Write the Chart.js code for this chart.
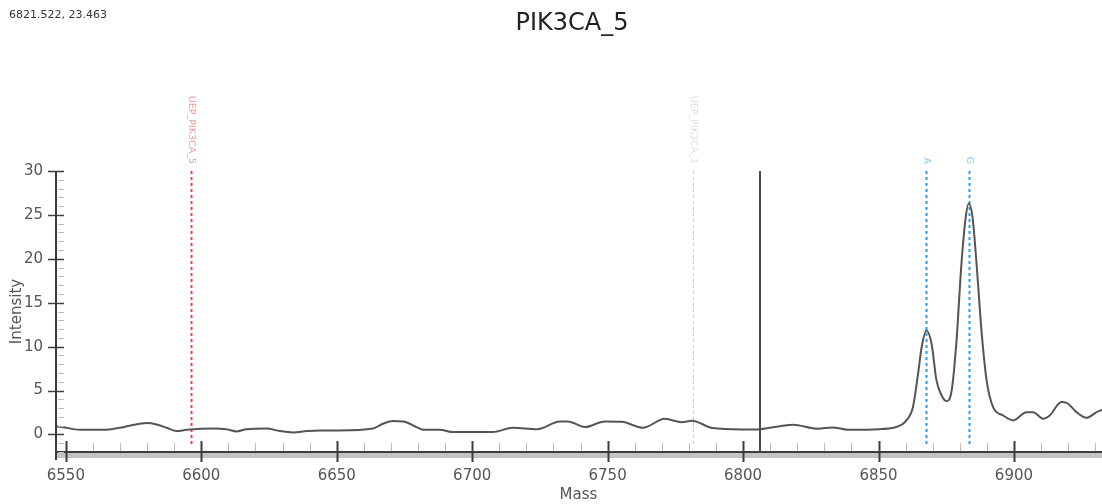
<!DOCTYPE html>
<html>
<head>
<meta charset="utf-8">
<script src="https://cdn.jsdelivr.net/npm/chart.js@4/dist/chart.umd.min.js"></script>
<style>
  body { margin: 0; background: #fff; }
  #wrap { position: relative; width: 1102px; height: 504px; }
  #coords { position: absolute; left: 9px; top: 8px; font: 11px "DejaVu Sans", sans-serif; color: #333; }
  #title { position: absolute; left: 0; width: 1144px; top: 8px; text-align: center; font: 24px "DejaVu Sans", sans-serif; color: #222; }
</style>
</head>
<body>
<div id="wrap">
  <canvas id="canvas" width="1102" height="504"></canvas>
  <div id="coords">6821.522, 23.463</div>
  <div id="title">PIK3CA_5</div>
</div>
<script>
// spectrum trace (mass, intensity)
var masses = [
  6546.0, 6546.6, 6555.2, 6563.8, 6569.9, 6573.6, 6579.8, 6583.5, 6587.2, 6590.9,
  6594.6, 6604.4, 6609.3, 6613.0, 6616.7, 6624.1, 6629.0, 6633.9, 6638.9, 6643.8,
  6651.1, 6663.4, 6667.1, 6670.8, 6674.5, 6679.5, 6681.9, 6688.1, 6692.9, 6707.6,
  6715.0, 6724.0, 6732.4, 6735.3, 6741.6, 6749.0, 6755.2, 6763.0, 6771.1, 6777.4,
  6781.1, 6788.8, 6799.5, 6805.4, 6810.6, 6818.4, 6827.6, 6833.1, 6838.7, 6850.5,
  6856.0, 6858.5, 6860.3, 6862.7, 6864.6, 6865.9, 6867.7, 6869.6, 6871.4, 6873.3,
  6875.1, 6877.0, 6878.8, 6880.6, 6882.2, 6883.3, 6884.7, 6886.2, 6888.0, 6889.9,
  6892.3, 6896.0, 6899.7, 6904.6, 6907.1, 6910.8, 6913.2, 6917.5, 6919.4, 6923.1,
  6926.8, 6930.5, 6932.5
];
var intensities = [
  0.85, 0.91, 0.53, 0.53, 0.76, 0.99, 1.29, 1.14, 0.76, 0.38,
  0.53, 0.68, 0.60, 0.34, 0.60, 0.68, 0.38, 0.23, 0.38, 0.46,
  0.46, 0.68, 1.22, 1.52, 1.48, 0.83, 0.53, 0.53, 0.27, 0.27,
  0.76, 0.60, 1.48, 1.48, 0.85, 1.48, 1.44, 0.76, 1.79, 1.40,
  1.56, 0.72, 0.57, 0.57, 0.80, 1.10, 0.65, 0.80, 0.53, 0.60,
  0.80, 1.10, 1.60, 3.10, 6.90, 9.90, 11.85, 10.30, 6.15, 4.44,
  3.80, 5.00, 10.70, 19.40, 24.75, 26.30, 24.75, 19.40, 11.85, 6.15,
  3.10, 2.16, 1.60, 2.54, 2.54, 1.79, 2.16, 3.68, 3.60, 2.54,
  1.90, 2.54, 2.80
];

// expected-peak markers
var markerMasses = [6596.1, 6781.4, 6867.6, 6883.3];
var markerLabels = ['UEP_PIK3CA_5', 'UEP_PIK3CA_1', 'A', 'G'];
var markerColors = ['#ff3b3b', '#c8c8c8', '#2a9ef0', '#2a9ef0'];
var markerTextColors = ['#ff9494', '#dedede', '#86c6f3', '#86c6f3'];
var cursorMass = 6806.2;

var xMin = 6546, xMax = 6932.5;
var yMin = -2, yMax = 30;

var points = masses.map(function (m, i) {
  return { x: m, y: intensities[i] };
});

var markersPlugin = {
  id: 'markers',
  beforeDatasetsDraw: function (chart) {
    var ctx = chart.ctx, a = chart.chartArea, x = chart.scales.x;
    ctx.save();
    markerMasses.forEach(function (m, i) {
      var px = Math.round(x.getPixelForValue(m)) + 0.5;
      ctx.strokeStyle = markerColors[i];
      ctx.lineWidth = i === 1 ? 1 : 2;
      ctx.setLineDash([3, 3]);
      ctx.beginPath();
      ctx.moveTo(px, a.top);
      ctx.lineTo(px, a.bottom - 6);
      ctx.stroke();
      // rotated label above the line
      ctx.save();
      ctx.translate(px, a.top - 7);
      ctx.rotate(Math.PI / 2);
      ctx.fillStyle = markerTextColors[i];
      ctx.font = '9.5px "DejaVu Sans", sans-serif';
      ctx.textAlign = 'right';
      ctx.textBaseline = 'middle';
      ctx.fillText(markerLabels[i], 0, 0);
      ctx.restore();
    });
    ctx.setLineDash([]);
    ctx.restore();
  },
  afterDatasetsDraw: function (chart) {
    var ctx = chart.ctx, a = chart.chartArea, x = chart.scales.x;
    var px = Math.round(x.getPixelForValue(cursorMass));
    ctx.save();
    ctx.strokeStyle = '#4a4a4a';
    ctx.lineWidth = 2;
    ctx.beginPath();
    ctx.moveTo(px, a.top);
    ctx.lineTo(px, a.bottom);
    ctx.stroke();
    ctx.restore();
  }
};

var axisPlugin = {
  id: 'axisDecor',
  afterDraw: function (chart) {
    var ctx = chart.ctx, a = chart.chartArea;
    var x = chart.scales.x, y = chart.scales.y;
    ctx.save();
    // x axis: shadow band, minor and major ticks, line
    ctx.fillStyle = '#c4c4c4';
    ctx.fillRect(a.left, a.bottom, a.right - a.left, 6);
    x.ticks.forEach(function (t) {
      var px = Math.round(x.getPixelForValue(t.value)) + 0.5;
      ctx.beginPath();
      if (t.value % 50 === 0) {
        ctx.strokeStyle = '#3c3c3c';
        ctx.lineWidth = 2;
        ctx.moveTo(px, a.bottom - 11);
        ctx.lineTo(px, a.bottom + 10);
      } else {
        ctx.strokeStyle = '#bdbdbd';
        ctx.lineWidth = 1;
        ctx.moveTo(px, a.bottom - 9);
        ctx.lineTo(px, a.bottom);
      }
      ctx.stroke();
    });
    ctx.strokeStyle = '#3c3c3c';
    ctx.lineWidth = 2;
    ctx.beginPath();
    ctx.moveTo(a.left, a.bottom);
    ctx.lineTo(a.right, a.bottom);
    ctx.stroke();

    // y axis: minor and major ticks, line
    y.ticks.forEach(function (t) {
      var py = Math.round(y.getPixelForValue(t.value)) + 0.5;
      ctx.beginPath();
      if (t.value % 5 === 0) {
        ctx.strokeStyle = '#3c3c3c';
        ctx.lineWidth = 1.5;
        ctx.moveTo(a.left - 7, py);
        ctx.lineTo(a.left + 9, py);
      } else {
        ctx.strokeStyle = '#bdbdbd';
        ctx.lineWidth = 1;
        ctx.moveTo(a.left + 3, py);
        ctx.lineTo(a.left + 9, py);
      }
      ctx.stroke();
    });
    ctx.strokeStyle = '#3c3c3c';
    ctx.lineWidth = 2;
    ctx.beginPath();
    ctx.moveTo(a.left + 1, a.top);
    ctx.lineTo(a.left + 1, a.bottom + 8);
    ctx.stroke();
    ctx.restore();
  }
};

var ctx = canvas.getContext('2d');
var config = {
  type: 'line',
  data: {
    datasets: [{
      label: 'PIK3CA_5',
      data: points,
      borderColor: '#555555',
      borderWidth: 2,
      pointRadius: 0,
      fill: false,
      tension: 0.4,
      cubicInterpolationMode: 'monotone'
    }]
  },
  options: {
    responsive: false,
    animation: false,
    events: [],
    layout: { padding: { top: 171, right: 0, left: 0, bottom: 0 } },
    plugins: {
      legend: { display: false },
      tooltip: { enabled: false }
    },
    scales: {
      x: {
        type: 'linear',
        min: xMin,
        max: xMax,
        grid: { display: false, drawTicks: false },
        border: { display: false },
        ticks: {
          stepSize: 10,
          includeBounds: false,
          autoSkip: false,
          maxRotation: 0,
          padding: 15,
          color: '#555',
          font: { family: 'DejaVu Sans', size: 15 },
          callback: function (v) { return v % 50 === 0 ? String(v) : ''; }
        },
        title: {
          display: true,
          text: 'Mass',
          color: '#555',
          font: { family: 'DejaVu Sans', size: 15 },
          padding: { top: 0, bottom: 0 }
        },
        afterFit: function (s) {
          s.height = 52;
          s.paddingLeft = 0;
          s.paddingRight = 0;
        }
      },
      y: {
        min: yMin,
        max: yMax,
        grid: { display: false, drawTicks: false },
        border: { display: false },
        ticks: {
          stepSize: 1,
          autoSkip: false,
          padding: 12,
          color: '#555',
          font: { family: 'DejaVu Sans', size: 15 },
          callback: function (v) { return v % 5 === 0 ? String(v) : ''; }
        },
        title: {
          display: true,
          text: 'Intensity',
          color: '#555',
          font: { family: 'DejaVu Sans', size: 15 },
          padding: { top: 8, bottom: 0 }
        },
        afterFit: function (s) {
          s.width = 55;
          s.paddingTop = 0;
          s.paddingBottom = 0;
        }
      }
    }
  },
  plugins: [markersPlugin, axisPlugin]
};

var chart = new Chart(ctx, config);
</script>
</body>
</html>
